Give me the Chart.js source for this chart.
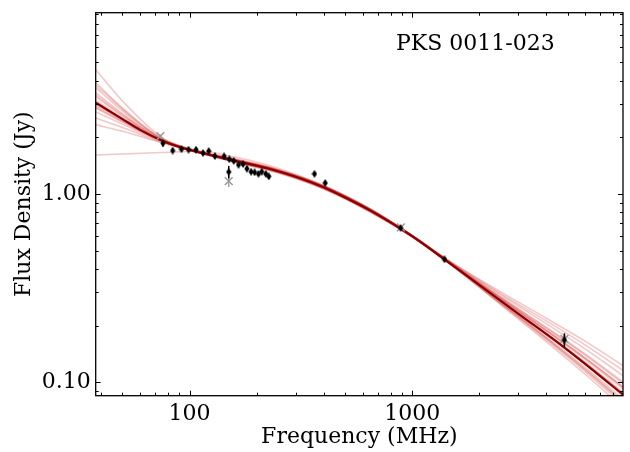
<!DOCTYPE html>
<html><head><meta charset="utf-8">
<script src="https://cdn.jsdelivr.net/npm/chart.js@4"></script>
<style>html,body{margin:0;padding:0;background:#fff}#wrap{width:630px;height:452px;position:relative}</style>
</head><body><div id="wrap"><canvas id="c"></canvas></div>
<script>
// ---- data ----
const sourceName = 'PKS 0011-023';
const obsFreq = [76, 84, 92, 99, 107, 115, 122, 130, 143, 151, 150, 158, 166, 174, 181, 189, 196, 204, 211, 220, 227, 364, 407, 887, 1397, 4827];
const obsFlux = [1.86, 1.70, 1.73, 1.72, 1.72, 1.65, 1.69, 1.59, 1.585, 1.53, 1.31, 1.50, 1.43, 1.443, 1.363, 1.313, 1.304, 1.28, 1.313, 1.28, 1.24, 1.28, 1.144, 0.66, 0.45, 0.168];
const obsErr  = [0.07, 0.04, 0.03, 0.03, 0.03, 0.03, 0.03, 0.03, 0.03, 0.03, 0.10, 0.03, 0.03, 0.03, 0.03, 0.03, 0.03, 0.03, 0.03, 0.03, 0.03, 0.03, 0.03, 0.01, 0.01, 0.014];
const exFreq = [74, 150, 890, 4830];
const exFlux = [2.03, 1.17, 0.665, 0.17];
const exErr  = [0.04, 0.08, 0.01, 0.01];
const fitFreq = [38, 50, 60, 75, 85, 100, 120, 150, 200, 226, 300, 400, 500, 650, 887, 1000, 1397, 2000, 3000, 4827, 6000, 9000];
const fitFlux = [3.05, 2.50, 2.19, 1.923, 1.818, 1.712, 1.628, 1.528, 1.414, 1.366, 1.234, 1.085, 0.957, 0.816, 0.655, 0.597, 0.45, 0.329, 0.231, 0.153, 0.125, 0.0847];
const sampleFreq = [38, 50, 75, 110, 160, 250, 400, 650, 1000, 1500, 2500, 4000, 6000, 9000];
const sample01 = [4.56, 3.12, 2.00, 1.685, 1.517, 1.334, 1.096, 0.824, 0.600, 0.424, 0.277, 0.187, 0.132, 0.091];
const sample02 = [3.79, 2.82, 1.965, 1.68, 1.525, 1.341, 1.101, 0.828, 0.602, 0.431, 0.291, 0.205, 0.150, 0.107];
const sample03 = [3.66, 2.76, 1.958, 1.665, 1.494, 1.314, 1.080, 0.812, 0.595, 0.421, 0.263, 0.171, 0.116, 0.077];
const sample04 = [3.44, 2.67, 1.94, 1.685, 1.532, 1.347, 1.107, 0.832, 0.603, 0.435, 0.302, 0.219, 0.165, 0.121];
const sample05 = [3.28, 2.60, 1.93, 1.672, 1.510, 1.328, 1.090, 0.820, 0.598, 0.426, 0.2786, 0.1895, 0.1345, 0.093];
const sample06 = [3.14, 2.54, 1.926, 1.66, 1.487, 1.308, 1.074, 0.808, 0.594, 0.4215, 0.2645, 0.172, 0.117, 0.078];
const sample07 = [2.97, 2.465, 1.918, 1.678, 1.520, 1.337, 1.098, 0.826, 0.601, 0.428, 0.284, 0.196, 0.141, 0.099];
const sample08 = [2.86, 2.41, 1.91, 1.665, 1.502, 1.321, 1.085, 0.816, 0.597, 0.423, 0.2732, 0.1827, 0.1276, 0.087];
const sample09 = [2.73, 2.35, 1.90, 1.655, 1.479, 1.301, 1.069, 0.804, 0.592, 0.419, 0.261, 0.1683, 0.1136, 0.075];
const sample10 = [2.53, 2.255, 1.887, 1.675, 1.529, 1.345, 1.105, 0.831, 0.602, 0.433, 0.296, 0.212, 0.1576, 0.114];
const sample11 = [2.33, 2.155, 1.872, 1.66, 1.514, 1.332, 1.094, 0.823, 0.599, 0.428, 0.282, 0.194, 0.139, 0.097];
const sample12 = [1.61, 1.63, 1.66, 1.69, 1.57, 1.37, 1.11, 0.83, 0.603, 0.425, 0.27, 0.179, 0.124, 0.083];
const sample13 = [3.00, 2.48, 1.92, 1.66, 1.490, 1.310, 1.076, 0.809, 0.595, 0.421, 0.2664, 0.1744, 0.1195, 0.080];
const sample14 = [3.35, 2.63, 1.935, 1.672, 1.507, 1.325, 1.088, 0.818, 0.598, 0.425, 0.278, 0.189, 0.134, 0.093];
const sample15 = [2.90, 2.43, 1.915, 1.657, 1.484, 1.305, 1.072, 0.806, 0.593, 0.423, 0.272, 0.1815, 0.1265, 0.086];
const sample16 = [3.90, 2.86, 1.97, 1.668, 1.472, 1.295, 1.063, 0.800, 0.591, 0.418, 0.258, 0.1647, 0.110, 0.072];
const samples = [sample01, sample02, sample03, sample04, sample05, sample06, sample07, sample08, sample09, sample10, sample11, sample12, sample13, sample14, sample15, sample16];
const xMajorTicks = [100, 1000];
const xMinorTicks = [40, 50, 60, 70, 80, 90, 200, 300, 400, 500, 600, 700, 800, 900, 2000, 3000, 4000, 5000, 6000, 7000, 8000];
const yMajorTicks = [0.1, 1];
const yMinorTicks = [0.09, 0.2, 0.3, 0.4, 0.5, 0.6, 0.7, 0.8, 0.9, 2, 3, 4, 5, 6, 7, 8, 9];
const xLabels = {100: '100', 1000: '1000'};
const yLabels = {0.1: '0.10', 1: '1.00'};

// ---- rendering ----
const FONT = "'DejaVu Serif', serif";
const diamond = document.createElement('canvas');
diamond.width = 6; diamond.height = 8;
(function(){const g = diamond.getContext('2d'); g.fillStyle = '#000'; g.beginPath();
  g.moveTo(3,0); g.lineTo(5.6,4); g.lineTo(3,8); g.lineTo(0.4,4); g.closePath(); g.fill();})();

const pts = (fs, vs) => fs.map((f, i) => ({x: f, y: vs[i]}));

const datasets = [];
datasets.push({type:'line', data: pts(obsFreq, obsFlux), errs: obsErr, errColor: '#000',
  showLine: false, pointStyle: diamond, pointRadius: 4, order: 0});
datasets.push({type:'line', data: pts(exFreq, exFlux), errs: exErr, errColor: '#a0a0a0',
  showLine: false, pointStyle: 'crossRot', pointRadius: 5.5, pointBorderColor: '#9a9a9a',
  pointBorderWidth: 1.5, order: 1});
datasets.push({type:'line', data: pts(fitFreq, fitFlux), borderColor: '#8a0000', borderWidth: 2.2,
  pointRadius: 0, cubicInterpolationMode: 'monotone', order: 2});
samples.forEach(s => datasets.push({type:'line', data: pts(sampleFreq, s),
  borderColor: 'rgba(205,35,35,0.25)', borderWidth: 1.6, pointRadius: 0,
  cubicInterpolationMode: 'monotone', order: 3}));

const errorBars = {
  id: 'errorBars',
  beforeDatasetDraw(chart, args) {
    const ds = chart.data.datasets[args.index];
    if (!ds.errs) return;
    const {ctx, scales: {x, y}} = chart;
    ctx.save();
    ctx.strokeStyle = ds.errColor; ctx.lineWidth = 1.5;
    ds.data.forEach((p, i) => {
      const px = x.getPixelForValue(p.x);
      ctx.beginPath();
      ctx.moveTo(px, y.getPixelForValue(p.y - ds.errs[i]));
      ctx.lineTo(px, y.getPixelForValue(p.y + ds.errs[i]));
      ctx.stroke();
    });
    ctx.restore();
  }
};

const frame = {
  id: 'frame',
  afterDraw(chart) {
    const {ctx, chartArea: a, scales: {x, y}} = chart;
    ctx.save();
    ctx.strokeStyle = '#000'; ctx.lineWidth = 1;
    const xt = (v, len) => { const p = Math.round(x.getPixelForValue(v)) + 0.5;
      ctx.beginPath(); ctx.moveTo(p, a.bottom); ctx.lineTo(p, a.bottom - len);
      ctx.moveTo(p, a.top); ctx.lineTo(p, a.top + len); ctx.stroke(); };
    const yt = (v, len) => { const p = Math.round(y.getPixelForValue(v)) + 0.5;
      ctx.beginPath(); ctx.moveTo(a.left, p); ctx.lineTo(a.left + len, p);
      ctx.moveTo(a.right, p); ctx.lineTo(a.right - len, p); ctx.stroke(); };
    xMajorTicks.forEach(v => xt(v, 5)); xMinorTicks.forEach(v => xt(v, 3));
    yMajorTicks.forEach(v => yt(v, 5)); yMinorTicks.forEach(v => yt(v, 3));
    ctx.lineWidth = 1.3;
    ctx.strokeRect(a.left, a.top, a.right - a.left, a.bottom - a.top);
    ctx.fillStyle = '#000'; ctx.font = "22px " + FONT; ctx.textBaseline = 'alphabetic';
    ctx.fillText(sourceName, 396, 50);
    ctx.restore();
  }
};

new Chart(document.getElementById('c'), {
  data: {datasets},
  options: {
    responsive: true, maintainAspectRatio: false, animation: false,
    layout: {padding: {left: 0, top: 12.7, right: 1, bottom: 0}},
    plugins: {legend: {display: false}, tooltip: {enabled: false}},
    scales: {
      x: {type: 'logarithmic', min: 37.9, max: 8850,
        grid: {display: false, drawTicks: false}, border: {display: false},
        afterBuildTicks: s => { s.ticks = xMajorTicks.map(v => ({value: v})); },
        afterFit: s => { s.height = 56.3; s.paddingLeft = 0; s.paddingRight = 0; },
        ticks: {autoSkip: false, maxRotation: 0, padding: 5, color: '#000',
          font: {family: FONT, size: 22}, callback: v => xLabels[v] || ''},
        title: {display: true, text: 'Frequency (MHz)', color: '#000',
          font: {family: FONT, size: 22}, padding: {top: 0, bottom: 2}}},
      y: {type: 'logarithmic', min: 0.0849, max: 9.18,
        grid: {display: false, drawTicks: false}, border: {display: false},
        afterBuildTicks: s => { s.ticks = yMajorTicks.map(v => ({value: v})); },
        afterFit: s => { s.width = 95.7; s.paddingTop = 0; s.paddingBottom = 0; },
        ticks: {autoSkip: false, padding: 5, color: '#000',
          font: {family: FONT, size: 22}, callback: v => yLabels[v] || ''},
        title: {display: true, text: 'Flux Density (Jy)', color: '#000',
          font: {family: FONT, size: 22}, padding: {top: 11, bottom: 0}}}
    }
  },
  plugins: [errorBars, frame]
});
</script></body></html>
